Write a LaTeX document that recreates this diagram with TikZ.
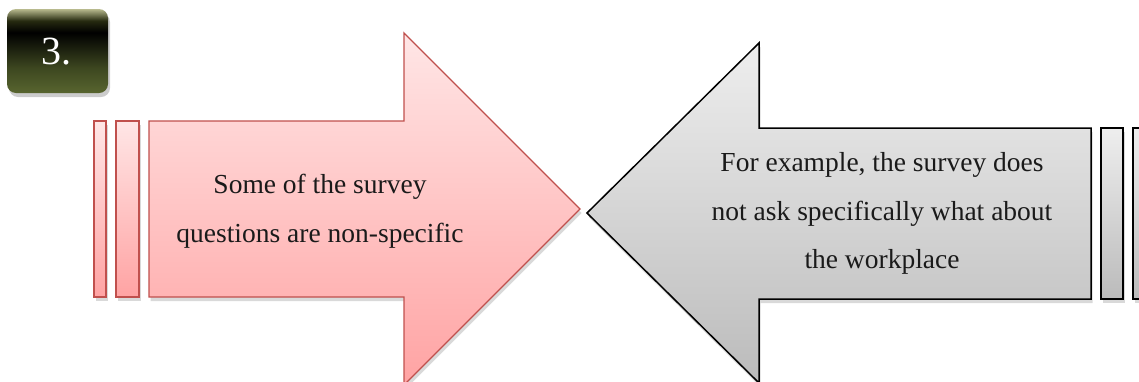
\documentclass[tikz,border=0pt]{standalone}
\usepackage{fontspec}
\setmainfont{Liberation Serif}
\usetikzlibrary{shadows}
\definecolor{redline}{HTML}{C0504D}
\definecolor{redtop}{HTML}{FFE6E6}
\definecolor{redbot}{HTML}{FFA3A3}
\definecolor{graytop}{HTML}{EEEEEE}
\definecolor{graybot}{HTML}{BBBBBB}
\definecolor{olbot}{HTML}{58652F}
\definecolor{olmid}{HTML}{3D4720}
\definecolor{oldark}{HTML}{262A10}
\definecolor{oltop}{HTML}{B8BA8E}
\definecolor{textcol}{HTML}{1A1A1A}
\pgfdeclareverticalshading{numshade}{100bp}{color(0bp)=(olbot); color(25bp)=(olbot); color(40bp)=(olmid); color(61bp)=(black); color(68bp)=(oldark); color(75bp)=(oltop); color(100bp)=(oltop)}
\tikzset{
  redshape/.style={draw=redline, line width=1.3pt, top color=redtop, bottom color=redbot, line join=miter},
  grayshape/.style={draw=black, line width=1.5pt, top color=graytop, bottom color=graybot, line join=miter},
  softshadow/.style={drop shadow={shadow xshift=1.5pt, shadow yshift=-4pt, opacity=0.15, fill=black}},
  bodytext/.style={font=\fontsize{27.5}{48.5}\selectfont, align=center, inner sep=0pt, text=textcol}
}
\begin{document}
\begin{tikzpicture}[x=1pt, y=-1pt]
  \useasboundingbox (0,0) rectangle (1139,381);
  \begin{scope}
    \clip (0,0) rectangle (1139,381);
    % number badge
    \path[fill=black, opacity=0.2, rounded corners=9pt] (9,13) rectangle (110,97);
    \shade[shading=numshade, rounded corners=9pt] (7,9) rectangle (108,93);
    \node[text=white, font=\fontsize{40}{42}\selectfont, inner sep=0pt] (num) at (56,51.5) {3.};
    % left (red) arrow
    \path[redshape, softshadow] (94,121) rectangle (106,297);
    \path[redshape, softshadow] (116,121) rectangle (139,297);
    \path[redshape, softshadow] (149,121) -- (404,121) -- (404,33) -- (580,209) -- (404,385) -- (404,297) -- (149,297) -- cycle;
    \node[bodytext] (lefttext) at (320,211) {Some of the survey\\questions are non-specific};
    % right (gray) arrow
    \path[grayshape, softshadow] (1101,128) rectangle (1123,299);
    \path[grayshape, softshadow] (1133,128) rectangle (1150,299);
    \path[grayshape, softshadow] (1091,128) -- (759,128) -- (759,43) -- (587,213) -- (759,383) -- (759,299) -- (1091,299) -- cycle;
    \node[bodytext] (righttext) at (882,213.5) {For example, the survey does\\not ask specifically what about\\the workplace};
  \end{scope}
\end{tikzpicture}
\end{document}
